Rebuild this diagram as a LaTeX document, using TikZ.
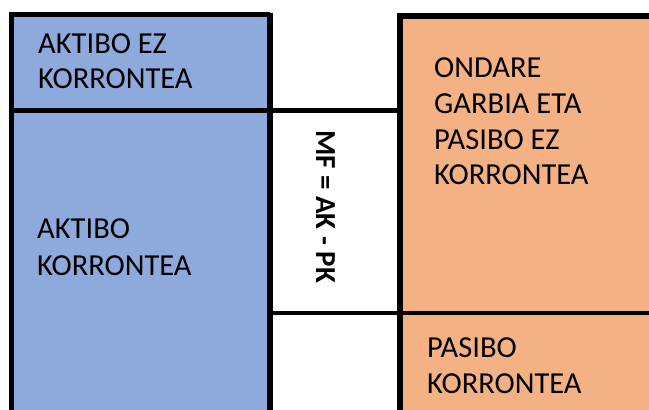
\documentclass[tikz,border=0pt]{standalone}
\usepackage{fontspec}
\setmainfont{Carlito}
\definecolor{bluefill}{HTML}{8EA9DB}
\definecolor{orangefill}{HTML}{F4B183}
\tikzset{
  lbl/.style={anchor=base west, inner sep=0pt, font=\fontsize{30.5}{36}\selectfont},
  rlbl/.style={anchor=base west, inner sep=0pt, rotate=-90, font=\fontsize{29}{35}\selectfont\bfseries},
  border/.style={draw=black, line cap=butt}
}
\begin{document}
\begin{tikzpicture}[x=1pt,y=-1pt]
\useasboundingbox (0,0) rectangle (649,410);
% fills
\fill[bluefill] (11.5,14.5) rectangle (270,410);
\fill[orangefill] (400,15.5) rectangle (649,410);
% borders
\draw[border, line width=5pt] (11.5,410) -- (11.5,14.5) -- (270,14.5);
\draw[border, line width=6pt] (270,12.5) -- (270,410);
\draw[border, line width=6pt] (400,410) -- (400,15.5) -- (649,15.5);
\draw[border, line width=4.5pt] (11.5,110.5) -- (400,110.5);
\draw[border, line width=4.5pt] (270,313) -- (649,313);
% texts
\node[lbl] (a1) at (38,53) {AKTIBO EZ};
\node[lbl] (a2) at (38,88) {KORRONTEA};
\node[lbl] (b1) at (37,238) {AKTIBO};
\node[lbl] (b2) at (37,275) {KORRONTEA};
\node[lbl] (c1) at (434,77) {ONDARE};
\node[lbl] (c2) at (434,113) {GARBIA ETA};
\node[lbl] (c3) at (434,149) {PASIBO EZ};
\node[lbl] (c4) at (434,184) {KORRONTEA};
\node[lbl] (d1) at (427,357) {PASIBO};
\node[lbl] (d2) at (427,393) {KORRONTEA};
\node[rlbl] (mf) at (316,130) {MF = AK - PK};
\end{tikzpicture}
\end{document}
